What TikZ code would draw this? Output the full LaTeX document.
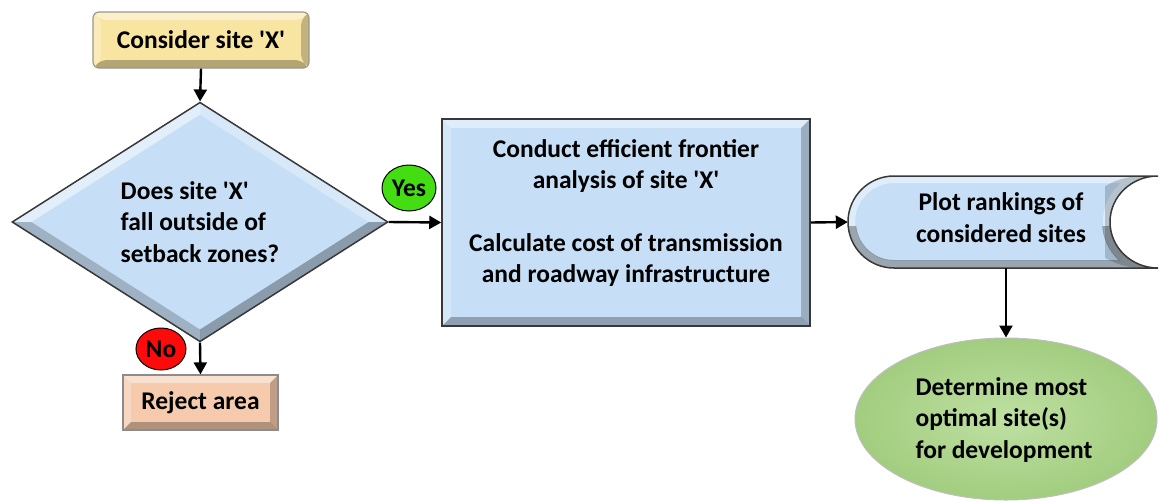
\documentclass[tikz,border=0pt]{standalone}
\usepackage{fontspec}
\setmainfont{Carlito}
\usetikzlibrary{shapes.geometric,arrows.meta}

\definecolor{sandfill}{HTML}{F9E5A2}
\definecolor{sandline}{HTML}{9C9888}
\definecolor{skyfill}{HTML}{C6DFF6}
\definecolor{darkline}{HTML}{383838}
\definecolor{peachfill}{HTML}{F5CAAD}
\definecolor{peachline}{HTML}{8C8C8C}
\definecolor{leafin}{HTML}{BEE0A2}
\definecolor{leafout}{HTML}{A2CD7F}
\definecolor{yesgreen}{HTML}{44DD11}
\definecolor{nored}{HTML}{FF0A0A}

\newcommand\apos{\textquotesingle}

\tikzset{
  txt/.style={font=\fontsize{25.5}{31.5}\selectfont\bfseries, text=black},
  % raised-panel look for rectangles: light top/left, dark bottom/right
  rectbevel/.style={path picture={
    \def\bb{path picture bounding box}
    \fill[white,opacity=.45] (\bb.north west) -- (\bb.north east)
      -- ([shift={(-#1,-#1)}]\bb.north east) -- ([shift={(#1,-#1)}]\bb.north west) -- cycle;
    \fill[white,opacity=.25] (\bb.north west) -- (\bb.south west)
      -- ([shift={(#1,#1)}]\bb.south west) -- ([shift={(#1,-#1)}]\bb.north west) -- cycle;
    \fill[black,opacity=.28] (\bb.south west) -- (\bb.south east)
      -- ([shift={(-#1,#1)}]\bb.south east) -- ([shift={(#1,#1)}]\bb.south west) -- cycle;
    \fill[black,opacity=.22] (\bb.north east) -- (\bb.south east)
      -- ([shift={(-#1,#1)}]\bb.south east) -- ([shift={(-#1,-#1)}]\bb.north east) -- cycle;
  }},
  % same look for the decision diamond
  diabevel/.style={path picture={
    \def\bb{path picture bounding box}
    \coordinate (iN) at ([yshift=-12pt]\bb.north);
    \coordinate (iS) at ([yshift=12pt]\bb.south);
    \coordinate (iE) at ([xshift=-19pt]\bb.east);
    \coordinate (iW) at ([xshift=19pt]\bb.west);
    \fill[white,opacity=.5] (\bb.west) -- (\bb.north) -- (iN) -- (iW) -- cycle;
    \fill[white,opacity=.3] (\bb.north) -- (\bb.east) -- (iE) -- (iN) -- cycle;
    \fill[black,opacity=.3] (\bb.east) -- (\bb.south) -- (iS) -- (iE) -- cycle;
    \fill[black,opacity=.2] (\bb.south) -- (\bb.west) -- (iW) -- (iS) -- cycle;
  }},
  flow/.style={line width=2.4pt, -{Triangle[length=12pt,width=13pt]}},
  tag/.style={ellipse, draw=black, line width=1pt, inner sep=0pt, txt},
}

\begin{document}
\begin{tikzpicture}[x=1pt,y=-1pt]
\useasboundingbox (0,0) rectangle (1161,501);

% start box
\node[txt, rectangle, rounded corners=6pt, fill=sandfill, draw=sandline, line width=1.2pt,
      rectbevel=8pt, minimum width=216pt, minimum height=56pt, inner sep=0pt]
  (consider) at (201,40) {Consider site \apos X\apos};

% decision
\node[txt, diamond, fill=skyfill, draw=darkline, line width=1.5pt, diabevel,
      minimum width=376pt, minimum height=237pt, inner sep=0pt, align=left]
  (decide) at (200,222) {Does site \apos X\apos\\fall outside of\\setback zones?};

% rejection
\node[txt, rectangle, fill=peachfill, draw=peachline, line width=1.2pt,
      rectbevel=8pt, minimum width=155pt, minimum height=55pt, inner sep=0pt]
  (reject) at (200.5,402.5) {Reject area};

% analysis step
\node[rectangle, fill=skyfill, draw=darkline, line width=1.5pt, rectbevel=9pt,
      minimum width=368pt, minimum height=207pt, inner sep=0pt]
  (conduct) at (626,222.5) {};
\node[txt, align=center, inner sep=0pt] (conducttxt) at (626,213)
  {Conduct efficient frontier\\analysis of site \apos X\apos\\[31pt]Calculate cost of transmission\\and roadway infrastructure};

% stored-data shape for the ranking plot
\node[minimum width=310pt, minimum height=92pt, inner sep=0pt] (plot) at (1003,222) {};
\begin{scope}
  \path[fill=skyfill] (894,176) -- (1158,176)
    arc[start angle=90, end angle=270, x radius=48pt, y radius=46pt]
    -- (894,268) arc[start angle=270, end angle=90, radius=46pt] -- cycle;
  \clip (894,176) -- (1158,176)
    arc[start angle=90, end angle=270, x radius=48pt, y radius=46pt]
    -- (894,268) arc[start angle=270, end angle=90, radius=46pt] -- cycle;
  \draw[white, opacity=.45, line width=14pt] (894,176) -- (1158,176)
    arc[start angle=90, end angle=270, x radius=48pt, y radius=46pt]
    -- (894,268) arc[start angle=270, end angle=90, radius=46pt] -- cycle;
  \clip (840,226) rectangle (1161,275);
  \draw[black, opacity=.3, line width=16pt] (894,176) -- (1158,176)
    arc[start angle=90, end angle=270, x radius=48pt, y radius=46pt]
    -- (894,268) arc[start angle=270, end angle=90, radius=46pt] -- cycle;
\end{scope}
\begin{scope}
  \clip (1105,170) rectangle (1161,275);
  \fill[black, opacity=.18] (1158,176)
    arc[start angle=90, end angle=270, x radius=48pt, y radius=46pt]
    -- (1143,268) arc[start angle=270, end angle=90, x radius=60pt, y radius=46pt] -- cycle;
\end{scope}
\draw[darkline, line width=1.5pt] (894,176) -- (1158,176)
  arc[start angle=90, end angle=270, x radius=48pt, y radius=46pt]
  -- (894,268) arc[start angle=270, end angle=90, radius=46pt] -- cycle;
\node[txt, align=center, inner sep=0pt] (plottxt) at (1001,217.5)
  {Plot rankings of\\considered sites};

% final outcome
\node[ellipse, inner color=leafin, outer color=leafout, draw=gray!50, line width=1pt,
      minimum width=302pt, minimum height=162pt, inner sep=0pt]
  (best) at (1006,419) {};
\node[txt, align=left, inner sep=0pt] (besttxt) at (1004,420)
  {Determine most\\optimal site(s)\\for development};

% connectors
\draw[flow] (consider.south) -- (decide.north);
\draw[flow] (decide.south) -- (reject.north);
\draw[flow] (decide.east) -- (conduct.west);
\draw[flow] (conduct.east) -- (plot.west);
\draw[flow] (plot.south -| best.north) -- (best.north);

% branch labels
\node[tag, fill=yesgreen, minimum width=54pt, minimum height=46pt] (yes) at (409,188) {Yes};
\node[tag, fill=nored, minimum width=50pt, minimum height=42pt] (no) at (161,349) {No};
\end{tikzpicture}
\end{document}
